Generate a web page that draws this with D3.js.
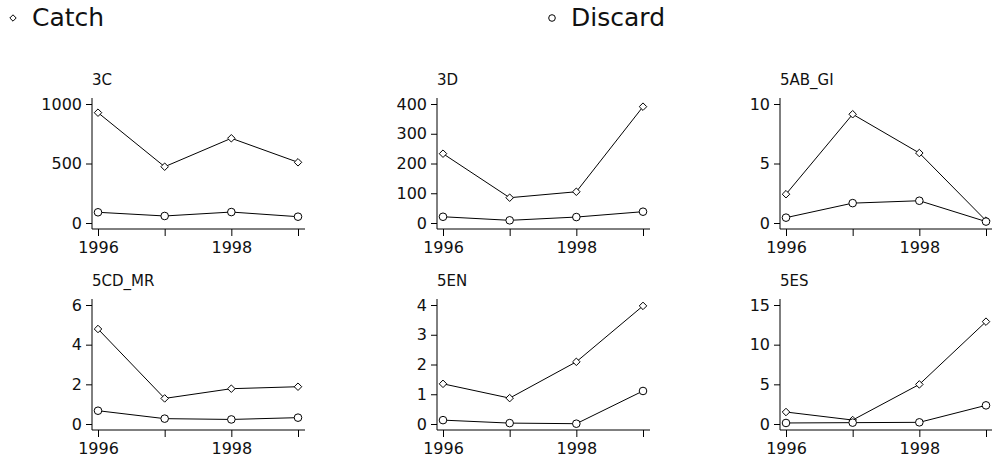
<!DOCTYPE html>
<html>
<head>
<meta charset="utf-8">
<script src="https://cdn.jsdelivr.net/npm/d3@7"></script>
<style>
  body { margin: 0; background: #fff; }
  svg text { font-family: "DejaVu Sans", sans-serif; fill: #111; }
</style>
</head>
<body>
<script>
// Data
var years = [1996, 1997, 1998, 1999];
var areas = ["3C", "3D", "5AB_GI", "5CD_MR", "5EN", "5ES"];
var catchVals = [
  [927, 473, 712, 510],
  [233, 85, 105, 391],
  [2.42, 9.14, 5.88, 0.2],
  [4.79, 1.29, 1.78, 1.88],
  [1.35, 0.87, 2.09, 3.97],
  [1.51, 0.5, 4.99, 12.9]
];
var discardVals = [
  [90, 59, 92, 53],
  [21, 9, 20, 38],
  [0.45, 1.67, 1.87, 0.12],
  [0.67, 0.27, 0.23, 0.32],
  [0.13, 0.03, 0.01, 1.11],
  [0.13, 0.17, 0.21, 2.35]
];
var yTicks = [
  [0, 500, 1000],
  [0, 100, 200, 300, 400],
  [0, 5, 10],
  [0, 2, 4, 6],
  [0, 1, 2, 3, 4],
  [0, 5, 10, 15]
];
var xLabels = [1996, 1998];

var svg = d3.select("body")
            .append("svg")
            .attr("width", 992)
            .attr("height", 461);

var colX = [98, 443, 786],
    rowY = [104, 305],
    plotW = 200,
    plotH = 119,
    pad = 6;

var diamond = d3.symbol().type(d3.symbolDiamond2).size(36);

// Legend
var legend = [
  {label: "Catch", x: 13, shape: "diamond"},
  {label: "Discard", x: 552, shape: "circle"}
];
legend.forEach(function(l) {
  if (l.shape == "diamond") {
    svg.append("path")
      .attr("d", d3.symbol().type(d3.symbolDiamond2).size(26)())
      .attr("transform", "translate(" + l.x + ",18)")
      .attr("fill", "none").attr("stroke", "#000");
  } else {
    svg.append("circle")
      .attr("cx", l.x).attr("cy", 18).attr("r", 3.3)
      .attr("fill", "none").attr("stroke", "#000");
  }
  svg.append("text")
    .attr("x", l.x + 19)
    .attr("y", 26)
    .style("font-size", "25px")
    .text(l.label);
});

areas.forEach(function(name, i) {
  var col = i % 3, row = Math.floor(i / 3);
  var x0 = colX[col], y0 = rowY[row];
  var ticks = yTicks[i];

  var x = d3.scaleLinear().domain([1996, 1999]).range([x0, x0 + plotW]);
  var y = d3.scaleLinear().domain([0, ticks[ticks.length - 1]]).range([y0 + plotH, y0]);

  var g = svg.append("g");
  var axisX = x0 - pad, axisY = y0 + plotH + pad;

  // title
  g.append("text")
    .attr("x", axisX)
    .attr("y", y0 - 19)
    .style("font-size", "15px")
    .text(name);

  // y axis
  var ya = g.append("g")
    .attr("transform", "translate(" + axisX + ",0)")
    .call(d3.axisLeft(y).tickValues(ticks).tickSize(6).tickPadding(4).tickFormat(d3.format("d")));
  ya.select(".domain").remove();
  ya.selectAll("text").style("font-size", "16px");

  // x axis
  var xa = g.append("g")
    .attr("transform", "translate(0," + axisY + ")")
    .call(d3.axisBottom(x).tickValues(years).tickSize(7).tickPadding(6)
      .tickFormat(function(d) { return xLabels.indexOf(d) >= 0 ? d : ""; }));
  xa.select(".domain").remove();
  xa.selectAll("text").style("font-size", "16px");

  g.selectAll(".tick line").attr("stroke", "#000");

  // axis lines
  g.append("line")
    .attr("x1", axisX).attr("x2", axisX)
    .attr("y1", y0 - pad).attr("y2", axisY)
    .attr("stroke", "#000");
  g.append("line")
    .attr("x1", axisX).attr("x2", x0 + plotW + pad + 1)
    .attr("y1", axisY).attr("y2", axisY)
    .attr("stroke", "#000");

  var line = d3.line()
    .x(function(d, k) { return x(years[k]); })
    .y(function(d) { return y(d); });

  [catchVals[i], discardVals[i]].forEach(function(vals, s) {
    g.append("path")
      .attr("d", line(vals))
      .attr("fill", "none")
      .attr("stroke", "#000")
      .attr("stroke-width", 1);

    if (s == 0) {
      g.selectAll(null)
        .data(vals)
        .enter()
        .append("path")
        .attr("d", diamond())
        .attr("transform", function(d, k) { return "translate(" + x(years[k]) + "," + y(d) + ")"; })
        .attr("fill", "#fff")
        .attr("stroke", "#000");
    } else {
      g.selectAll(null)
        .data(vals)
        .enter()
        .append("circle")
        .attr("cx", function(d, k) { return x(years[k]); })
        .attr("cy", function(d) { return y(d); })
        .attr("r", 3.8)
        .attr("fill", "#fff")
        .attr("stroke", "#000");
    }
  });
});
</script>
</body>
</html>
